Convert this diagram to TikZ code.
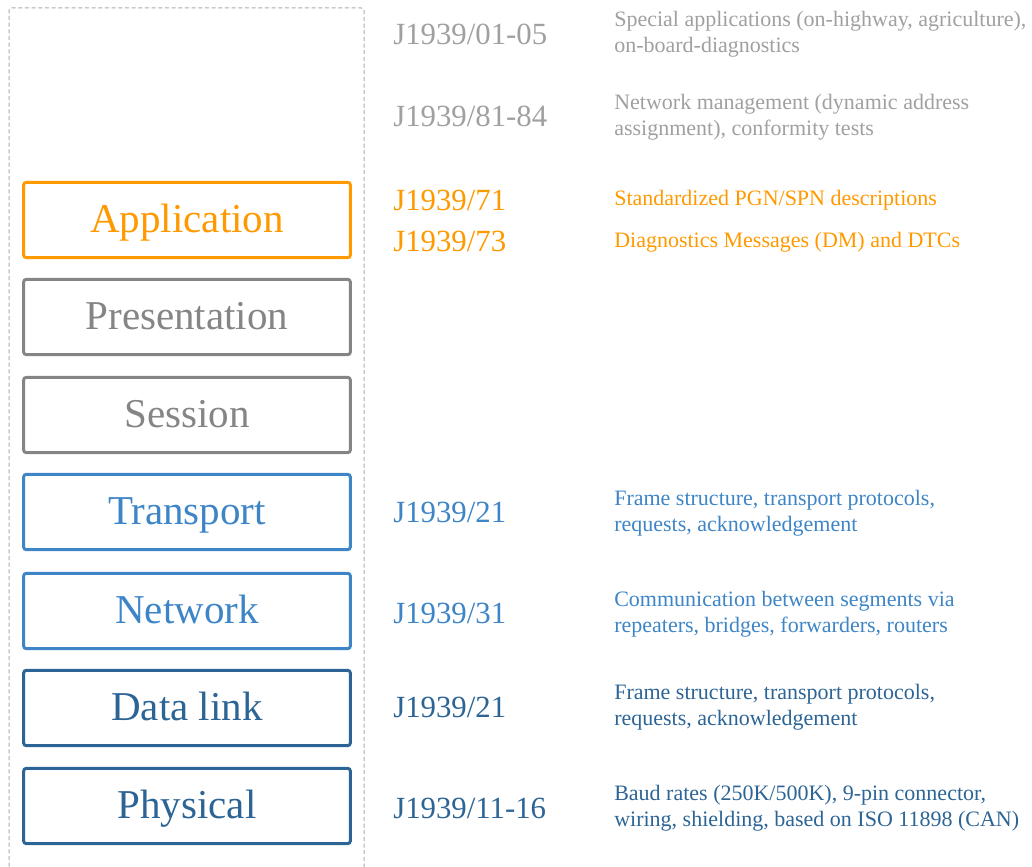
\documentclass[tikz,border=0pt]{standalone}
\usepackage{fontspec}
\setmainfont{Liberation Serif}
\definecolor{cgrayl}{HTML}{A0A0A0}
\definecolor{cgray}{HTML}{858585}
\definecolor{corange}{HTML}{FF9900}
\definecolor{cblue}{HTML}{3D85C6}
\definecolor{cdblue}{HTML}{2C6495}
\definecolor{cframe}{HTML}{AAAAAA}
\begin{document}
\begin{tikzpicture}[x=0.75pt,y=-0.75pt,
  layer/.style={draw, line width=2.25pt, rounded corners=2pt, minimum width=245pt, minimum height=56.5pt,
     inner sep=0pt, font=\fontsize{30.75}{34}\selectfont, text height=23pt, text depth=5pt},
  code/.style={anchor=base west, inner sep=0pt, font=\fontsize{23.1}{26}\selectfont},
  desc/.style={anchor=base west, inner sep=0pt, align=left, font=\fontsize{16.5}{19.5}\selectfont}]
\useasboundingbox (0,0) rectangle (1032,867);
\draw[cframe, line width=0.75pt, dash pattern=on 3pt off 2pt, rounded corners=2pt] (9,900) -- (9,8) -- (364,8) -- (364,900);
% layers
\node[layer, draw=corange, text=corange] (app) at (187,220) {Application};
\node[layer, draw=cgray, text=cgray] (pres) at (187,317) {Presentation};
\node[layer, draw=cgray, text=cgray] (sess) at (187,415) {Session};
\node[layer, draw=cblue, text=cblue] (trans) at (187,512) {Transport};
\node[layer, draw=cblue, text=cblue] (net) at (187,611) {Network};
\node[layer, draw=cdblue, text=cdblue] (dl) at (187,708) {Data link};
\node[layer, draw=cdblue, text=cdblue] (phy) at (187,806) {Physical};
% codes
\node[code, text=cgrayl] (c1) at (393,45) {J1939/01-05};
\node[code, text=cgrayl] (c2) at (393,127) {J1939/81-84};
\node[code, text=corange] (c3) at (393,210) {J1939/71};
\node[code, text=corange] (c4) at (393,251) {J1939/73};
\node[code, text=cblue] (c5) at (393,522) {J1939/21};
\node[code, text=cblue] (c6) at (393,623) {J1939/31};
\node[code, text=cdblue] (c7) at (393,717) {J1939/21};
\node[code, text=cdblue] (c8) at (393,818) {J1939/11-16};
% descriptions (anchor = baseline of last line)
\node[desc, text=cgrayl] (d1) at (614,53) {Special applications (on-highway, agriculture),\\on-board-diagnostics};
\node[desc, text=cgrayl] (d2) at (614,135) {Network management (dynamic address\\assignment), conformity tests};
\node[desc, text=corange] (d3) at (614,205) {Standardized PGN/SPN descriptions};
\node[desc, text=corange] (d4) at (614,247) {Diagnostics Messages (DM) and DTCs};
\node[desc, text=cblue] (d5) at (614,531) {Frame structure, transport protocols,\\requests, acknowledgement};
\node[desc, text=cblue] (d6) at (614,632) {Communication between segments via\\repeaters, bridges, forwarders, routers};
\node[desc, text=cdblue] (d7) at (614,725) {Frame structure, transport protocols,\\requests, acknowledgement};
\node[desc, text=cdblue] (d8) at (614,826) {Baud rates (250K/500K), 9-pin connector,\\wiring, shielding, based on ISO 11898 (CAN)};
\end{tikzpicture}
\end{document}
